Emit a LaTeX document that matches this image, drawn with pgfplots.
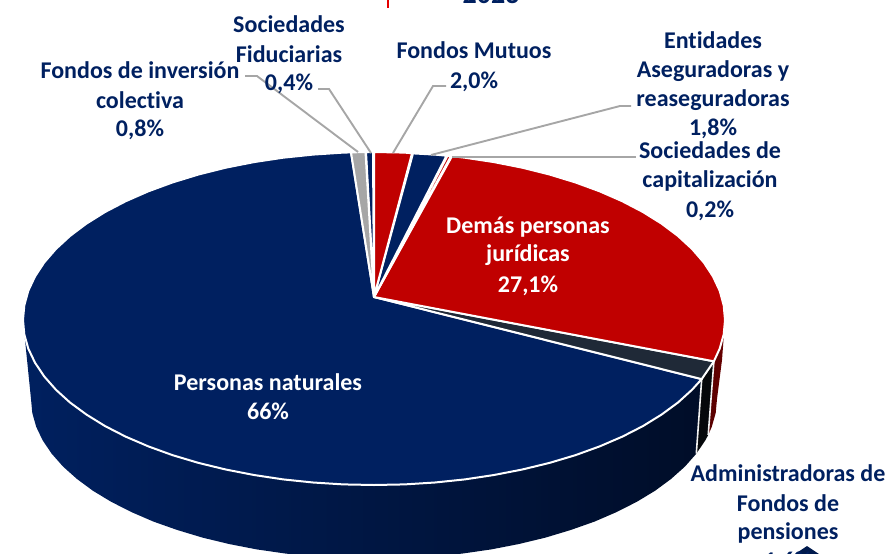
\documentclass[border=0pt]{standalone}
\usepackage{fontspec}
\setmainfont{Carlito}[Ligatures=NoCommon]
\usepackage{pgfplots}
\pgfplotsset{compat=1.18}
\definecolor{navy}{HTML}{002060}
\definecolor{rojo}{HTML}{C00000}
\definecolor{oscuro}{HTML}{1F2937}
\definecolor{gris}{HTML}{A6A6A6}
\definecolor{navyA}{HTML}{00205F}
\definecolor{navyB}{HTML}{001A4C}
\definecolor{navyC}{HTML}{000D28}
\tikzset{lab/.style={font=\fontsize{24}{24}\selectfont\bfseries,text=navy,anchor=center,inner sep=0pt},
 labw/.style={lab,text=white},
 top/.style={draw=white,line width=2pt,line join=round},
 lead/.style={draw=gris,line width=1.9pt,no markers}}
\begin{document}
\begin{tikzpicture}
\clip[use as bounding box] (0,0) rectangle (894pt,554pt);
\begin{axis}[at={(0pt,0pt)},anchor=south west,scale only axis,width=894pt,height=554pt,
 xmin=0,xmax=894,ymin=0,ymax=554,y dir=reverse,hide axis,clip=true]
% side: navy
\addplot[draw=none,left color=navyA,middle color=navyB,right color=navyC] coordinates {
(701.7,379.1)(692.1,389.7)(678,402.5)(661.5,414.6)(642.9,426.1)(622.2,436.7)(599.6,446.4)(575.3,455.2)(549.5,462.9)(522.3,469.5)(494,475)(464.8,479.4)(434.9,482.5)(404.6,484.4)(374,485)(343.4,484.4)(313.1,482.5)(283.2,479.4)(254,475)(225.7,469.5)(198.5,462.9)(172.7,455.2)(148.4,446.4)(125.8,436.7)(105.1,426.1)(86.5,414.6)(70,402.5)(55.9,389.7)(44.2,376.4)(35,362.7)(28.3,348.6)(24.3,334.4)(23,320)
(31,399)(32.3,413)(36.2,426.8)(42.7,440.4)(51.7,453.7)(63.1,466.6)(77,479)(93,490.8)(111.2,501.8)(131.5,512.1)(153.5,521.6)(177.3,530)(202.5,537.6)(229,544)(256.7,549.4)(285.2,553.5)(314.4,556.6)(344.1,558.4)(374,559)(403.9,558.4)(433.6,556.6)(462.8,553.5)(491.3,549.4)(519,544)(545.5,537.6)(570.7,530)(594.5,521.6)(616.5,512.1)(636.8,501.8)(655,490.8)(671,479)(684.9,466.6)(696.3,453.7)} -- cycle;
% side: dark
\addplot[draw=none,fill=black!80!oscuro] coordinates {(701.7,379.1)(713.9,361.3)(708.2,435)(705.3,440.4)(696.3,453.7)} -- cycle;
% side: red
\addplot[draw=none,left color=rojo!45!black,right color=rojo!55!black] coordinates {(713.9,361.3)(719.7,348.6)(723.7,334.4)(725,320)(722,360)(717,399)(715.7,413)(711.8,426.8)(708.2,435)} -- cycle;
% separators on the side
\addplot[draw=white!85!gris,line width=1.6pt,no markers] coordinates {(701.7,379.1)(696.3,453.7)};
\addplot[draw=white!85!gris,line width=1.6pt,no markers] coordinates {(713.9,361.3)(708.2,435)};
% top faces
\addplot[top,fill=navy] coordinates {(374,297)(701.7,379.1)(692.1,389.7)(678,402.5)(661.5,414.6)(642.9,426.1)(622.2,436.7)(599.6,446.4)(575.3,455.2)(549.5,462.9)(522.3,469.5)(494,475)(464.8,479.4)(434.9,482.5)(404.6,484.4)(374,485)(343.4,484.4)(313.1,482.5)(283.2,479.4)(254,475)(225.7,469.5)(198.5,462.9)(172.7,455.2)(148.4,446.4)(125.8,436.7)(105.1,426.1)(86.5,414.6)(70,402.5)(55.9,389.7)(44.2,376.4)(35,362.7)(28.3,348.6)(24.3,334.4)(23,320)(24.3,305.4)(28.3,290.8)(35,276.5)(44.2,262.5)(55.9,249)(70,236)(86.5,223.6)(105.1,212)(125.8,201.2)(148.4,191.3)(172.7,182.4)(198.5,174.5)(225.7,167.7)(254,162.1)(283.2,157.7)(313.1,154.6)(343.4,152.6)(351,152.4)} -- cycle;
\addplot[top,fill=oscuro] coordinates {(374,297)(713.9,361.3)(701.7,379.1)} -- cycle;
\addplot[top,fill=rojo] coordinates {(374,297)(452,156.2)(464.8,157.7)(494,162.1)(522.3,167.7)(549.5,174.5)(575.3,182.4)(599.6,191.3)(622.2,201.2)(642.9,212)(661.5,223.6)(678,236)(692.1,249)(703.8,262.5)(713,276.5)(719.7,290.8)(723.7,305.4)(725,320)(723.7,334.4)(719.7,348.6)(713.9,361.3)} -- cycle;
\addplot[top,fill=rojo] coordinates {(374,297)(447.5,155.8)(451,156.1)} -- cycle;
\addplot[top,fill=navy] coordinates {(374,297)(413,153.4)(434.9,154.6)(446.5,155.7)} -- cycle;
\addplot[top,fill=rojo] coordinates {(374,297)(374,152)(404.6,152.6)(412,153.3)} -- cycle;
\addplot[top,fill=navy] coordinates {(374,297)(366,152)(373,152)} -- cycle;
\addplot[top,fill=gris] coordinates {(374,297)(351,152.4)(365.5,152)} -- cycle;
% leader lines
\addplot[lead] coordinates {(393,153)(433,86)(446,86)};
\addplot[lead] coordinates {(431,155)(620,106)(631,106)};
\addplot[lead] coordinates {(452,157)(636,157)};
\addplot[lead] coordinates {(371,153)(329,89)(318,89)};
\addplot[lead] coordinates {(358,152)(257,76)(245,76)};
% fragments cut by the edge
\addplot[draw=none,fill=red!90!black] coordinates {(387,0)(389,0)(389,8)(387,8)} -- cycle;
\addplot[draw=none,fill=navy!80!black] coordinates {(795,554)(807,546)(819,554)} -- cycle;
% labels
\node[lab,font=\fontsize{28}{28}\selectfont\bfseries] at (axis cs:491,-6) {2023};
\node[lab] at (axis cs:289,24) {Sociedades};
\node[lab] at (axis cs:289,54) {Fiduciarias};
\node[lab] at (axis cs:289,84) {0,4\%};
\node[lab] at (axis cs:140,70) {Fondos de inversión};
\node[lab] at (axis cs:140,100) {colectiva};
\node[lab] at (axis cs:140,130) {0,8\%};
\node[lab] at (axis cs:474,50) {Fondos Mutuos};
\node[lab] at (axis cs:474,82) {2,0\%};
\node[lab] at (axis cs:713,40) {Entidades};
\node[lab] at (axis cs:713,71) {Aseguradoras y};
\node[lab] at (axis cs:713,100) {reaseguradoras};
\node[lab] at (axis cs:713,129) {1,8\%};
\node[lab] at (axis cs:710,150) {Sociedades de};
\node[lab] at (axis cs:710,181) {capitalización};
\node[lab] at (axis cs:710,211) {0,2\%};
\node[labw] at (axis cs:528,227) {Demás personas};
\node[labw] at (axis cs:528,255) {jurídicas};
\node[labw] at (axis cs:528,286) {27,1\%};
\node[labw] at (axis cs:268,382) {Personas naturales};
\node[labw] at (axis cs:268,411) {66\%};
\node[lab] at (axis cs:788,473) {Administradoras de};
\node[lab] at (axis cs:788,503) {Fondos de};
\node[lab] at (axis cs:788,533) {pensiones};
\node[lab] at (axis cs:788,562) {1,6\%};
\end{axis}
\end{tikzpicture}
\end{document}
